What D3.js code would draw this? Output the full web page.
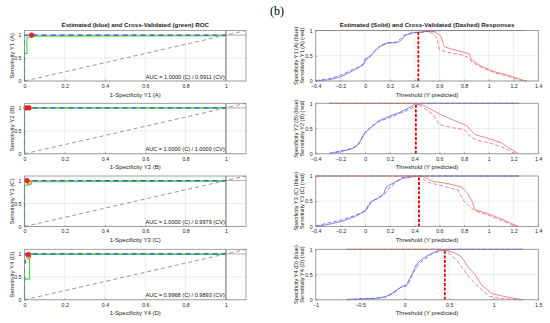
<!DOCTYPE html>
<html>
<head>
<meta charset="utf-8">
<script src="https://cdn.jsdelivr.net/npm/d3@7"></script>
<style>
  body { margin: 0; background: #fff; }
  svg { font-family: "Liberation Sans", Arial, sans-serif; }
  .tick text { fill: #262626; }
</style>
</head>
<body>
<svg width="550" height="323"></svg>
<script>
// ---- data ----
const names = ["Y1 (A)", "Y2 (B)", "Y3 (C)", "Y4 (D)"];
const aucC  = ["1.0000", "1.0000", "1.0000", "0.9968"];
const aucCV = ["0.9911", "1.0000", "0.9979", "0.9893"];

// ROC curves, [1-specificity, sensitivity]
const rocEst = [
  [[0,0],[0,1],[1,1]],
  [[0,0],[0,1],[1,1]],
  [[0,0],[0,1],[1,1]],
  [[0,0],[0,0.8],[0.005,0.8],[0.005,1],[1,1]]
];
const rocCv = [
  [[0,0],[0,0.6],[0.012,0.6],[0.012,0.96],[0.04,0.96],[0.04,0.975],[1,0.985]],
  [[0,0],[0,1],[1,1]],
  [[0,0],[0,0.9],[0.015,0.9],[0.015,0.975],[1,0.985]],
  [[0,0],[0,0.45],[0.025,0.45],[0.025,0.99],[1,0.99]]
];
const opEst = [[[0.035,1]], [[0.008,1],[0.022,1]], [[0.012,1]], [[0.02,0.985]]];
const opCv  = [[], [], [[0.025,0.95]], [[0.02,0.93]]];

// response curves, [threshold, value]
const specSolid = [
  [[-0.4,0],[-0.3,0.02],[-0.2,0.08],[-0.1,0.2],[-0.05,0.27],[-0.01,0.33],[0,0.44],[0.04,0.48],[0.08,0.6],[0.12,0.68],[0.18,0.75],[0.26,0.76],[0.29,0.8],[0.32,0.9],[0.38,0.95],[0.44,0.97],[0.52,0.99],[0.6,1],[1.29,1]],
  [[-0.29,0],[-0.2,0.04],[-0.12,0.09],[-0.07,0.15],[-0.04,0.25],[0,0.42],[0.06,0.55],[0.11,0.65],[0.2,0.75],[0.28,0.82],[0.36,0.92],[0.41,1],[1.24,1]],
  [[-0.4,0],[-0.3,0.04],[-0.19,0.1],[-0.08,0.2],[-0.01,0.3],[0.01,0.33],[0.05,0.5],[0.1,0.55],[0.15,0.65],[0.17,0.78],[0.24,0.88],[0.3,0.95],[0.4,0.99],[0.48,1],[1.24,1]],
  [[-0.65,0.01],[-0.33,0.03],[-0.22,0.06],[-0.15,0.12],[-0.07,0.22],[-0.015,0.27],[0.02,0.3],[0.08,0.5],[0.13,0.7],[0.19,0.8],[0.26,0.88],[0.34,0.95],[0.41,0.99],[0.45,1],[1.33,1]]
];
const specDash = [
  [[-0.4,0.01],[-0.3,0.04],[-0.2,0.11],[-0.1,0.23],[-0.03,0.3],[0,0.4],[0.03,0.46],[0.07,0.58],[0.12,0.7],[0.18,0.76],[0.25,0.77],[0.28,0.82],[0.31,0.9],[0.38,0.96],[0.46,0.96],[0.5,0.98],[0.62,1],[1.29,1]],
  [[-0.29,0.01],[-0.2,0.06],[-0.1,0.11],[-0.05,0.2],[-0.01,0.4],[0.05,0.54],[0.1,0.63],[0.2,0.72],[0.28,0.8],[0.36,0.88],[0.42,0.97],[0.46,1],[1.24,1]],
  [[-0.4,0.01],[-0.3,0.07],[-0.19,0.13],[-0.08,0.22],[0,0.3],[0.03,0.45],[0.09,0.55],[0.15,0.62],[0.19,0.75],[0.24,0.86],[0.3,0.97],[0.4,1],[1.24,1]],
  [[-0.65,0],[-0.35,0.02],[-0.22,0.05],[-0.12,0.14],[-0.05,0.24],[0.03,0.28],[0.1,0.55],[0.16,0.72],[0.22,0.8],[0.3,0.9],[0.4,0.97],[0.5,0.99],[0.6,1],[1.33,1]]
];
const sensSolid = [
  [[-0.4,1],[0.49,1],[0.56,0.97],[0.61,0.9],[0.64,0.68],[0.7,0.63],[0.78,0.58],[0.84,0.54],[0.86,0.42],[0.94,0.29],[1.05,0.18],[1.16,0.11],[1.27,0.02],[1.31,0]],
  [[-0.29,1],[0.41,1],[0.46,0.97],[0.54,0.87],[0.62,0.77],[0.7,0.68],[0.78,0.6],[0.82,0.56],[0.86,0.45],[0.89,0.38],[1,0.3],[1.1,0.22],[1.16,0.12],[1.24,0]],
  [[-0.4,1],[0.46,1],[0.54,0.9],[0.67,0.85],[0.78,0.78],[0.83,0.65],[0.86,0.52],[0.89,0.33],[1,0.25],[1.1,0.15],[1.21,0.03],[1.24,0]],
  [[-0.65,1],[0.43,1],[0.56,0.93],[0.64,0.85],[0.71,0.65],[0.79,0.5],[0.86,0.3],[0.98,0.12],[1.16,0.05],[1.33,0]]
];
const sensDash = [
  [[-0.4,1],[0.46,1],[0.54,0.95],[0.58,0.85],[0.6,0.62],[0.68,0.56],[0.78,0.52],[0.84,0.46],[0.86,0.38],[0.94,0.27],[1.05,0.16],[1.16,0.09],[1.26,0.01],[1.3,0]],
  [[-0.29,1],[0.41,1],[0.46,0.93],[0.54,0.8],[0.6,0.58],[0.7,0.52],[0.8,0.48],[0.86,0.32],[0.92,0.26],[1,0.22],[1.1,0.14],[1.16,0.07],[1.21,0]],
  [[-0.4,1],[0.44,1],[0.5,0.88],[0.6,0.82],[0.75,0.72],[0.8,0.5],[0.84,0.4],[0.89,0.31],[1,0.22],[1.1,0.12],[1.2,0.02],[1.23,0]],
  [[-0.65,1],[0.41,1],[0.5,0.92],[0.6,0.75],[0.7,0.5],[0.8,0.3],[0.86,0.2],[0.95,0.07],[1.1,0.02],[1.3,0]]
];
const thresholds = [0.43, 0.41, 0.435, 0.45];
const respDomains = [[-0.4,1.4],[-0.4,1.4],[-0.4,1.4],[-1,1.5]];
const respTicks = [
  [-0.4,-0.2,0,0.2,0.4,0.6,0.8,1,1.2,1.4],
  [-0.4,-0.2,0,0.2,0.4,0.6,0.8,1,1.2,1.4],
  [-0.4,-0.2,0,0.2,0.4,0.6,0.8,1,1.2,1.4],
  [-1,-0.5,0,0.5,1,1.5]
];

// ---- layout ----
const svg = d3.select("svg");
const tops = [30.5, 103.3, 176, 249.3];
const ph = 50.5;
const left = [24.5, 246], right = [315.7, 538.3];
const blue = "#4a4ae0", red = "#e25050", green = "#2ee02e";
const line = d3.line().x(d => d[0]).y(d => d[1]);

svg.append("text").attr("x", 270).attr("y", 15)
  .attr("font-family", "Liberation Serif, serif").attr("font-size", 12).text("(b)");

function frame(g, x, y, xt, yt, xfmt) {
  // grid
  g.append("g").selectAll("line").data(xt).join("line")
    .attr("x1", d => x(d)).attr("x2", d => x(d))
    .attr("y1", y.range()[0]).attr("y2", y.range()[1])
    .attr("stroke", "#e0e0e0").attr("stroke-width", 0.6);
  g.append("g").selectAll("line").data(yt).join("line")
    .attr("y1", d => y(d)).attr("y2", d => y(d))
    .attr("x1", x.range()[0]).attr("x2", x.range()[1])
    .attr("stroke", "#e0e0e0").attr("stroke-width", 0.6);
  const ax = g.append("g").attr("transform", `translate(0,${y.range()[0]})`)
    .call(d3.axisBottom(x).tickValues(xt).tickSize(-1.5).tickPadding(3).tickFormat(xfmt));
  const ay = g.append("g").attr("transform", `translate(${x.range()[0]},0)`)
    .call(d3.axisLeft(y).tickValues(yt).tickSize(-1.5).tickPadding(3).tickFormat(d3.format("")));
  [ax, ay].forEach(a => {
    a.select(".domain").remove();
    a.selectAll(".tick line").attr("stroke", "#555").attr("stroke-width", 0.5);
    a.selectAll(".tick text").attr("font-size", 5.3);
  });
}

function box(g, x, y) {
  g.append("rect")
    .attr("x", x.range()[0]).attr("y", y.range()[1])
    .attr("width", x.range()[1] - x.range()[0]).attr("height", y.range()[0] - y.range()[1])
    .attr("fill", "none").attr("stroke", "#8a8a8a").attr("stroke-width", 0.8);
}

names.forEach((nm, i) => {
  const top = tops[i];

  // ---- ROC panel ----
  const gx = d3.scaleLinear().domain([0, 1.1]).range(left);
  const gy = d3.scaleLinear().domain([0, 1.1]).range([top + ph, top]);
  const g = svg.append("g");
  frame(g, gx, gy, [0, 0.2, 0.4, 0.6, 0.8, 1], [0, 0.5, 1], d3.format(""));
  const pr = d => [gx(d[0]), gy(d[1])];
  g.append("path").attr("d", line([[0,0],[1.1,1.1]].map(pr)))
    .attr("fill", "none").attr("stroke", "#8c8c8c").attr("stroke-width", 0.9).attr("stroke-dasharray", "4,3");
  g.append("path").attr("d", line([[1,0],[1,1.1]].map(pr)))
    .attr("fill", "none").attr("stroke", "#a8a8a8").attr("stroke-width", 1.8);
  g.append("path").attr("d", line([[0,1],[1.1,1]].map(pr)))
    .attr("fill", "none").attr("stroke", "#999").attr("stroke-width", 0.7);
  g.append("path").attr("d", line(rocCv[i].map(pr)))
    .attr("fill", "none").attr("stroke", green).attr("stroke-width", 1.1);
  g.append("path").attr("d", line(rocEst[i].map(pr)))
    .attr("fill", "none").attr("stroke", blue).attr("stroke-width", 1.1).attr("stroke-dasharray", "5,4");
  g.selectAll(".opc").data(opCv[i]).join("circle")
    .attr("cx", d => gx(d[0])).attr("cy", d => gy(d[1])).attr("r", 2)
    .attr("fill", "#e6e04a").attr("stroke", red).attr("stroke-width", 0.8);
  g.selectAll(".ope").data(opEst[i]).join("circle")
    .attr("cx", d => gx(d[0])).attr("cy", d => gy(d[1])).attr("r", 2.4)
    .attr("fill", "#e22").attr("stroke", "#c11").attr("stroke-width", 0.5);
  box(g, gx, gy);
  g.append("text").attr("x", gx(1) - 1).attr("y", gy(0) - 2.5).attr("text-anchor", "end")
    .attr("font-size", 5.6).attr("fill", "#111")
    .text(`AUC = ${aucC[i]} (C) / ${aucCV[i]} (CV)`);
  g.append("text").attr("x", (left[0] + left[1]) / 2).attr("y", top + ph + 15.5)
    .attr("text-anchor", "middle").attr("font-size", 6).attr("fill", "#222")
    .text(`1-Specificity ${nm}`);
  g.append("text").attr("transform", `translate(12,${top + ph / 2}) rotate(-90)`)
    .attr("text-anchor", "middle").attr("dy", "0.35em").attr("font-size", 6).attr("fill", "#222")
    .text(`Sensitivity ${nm}`);

  // ---- response panel ----
  const rx = d3.scaleLinear().domain(respDomains[i]).range(right);
  const ry = d3.scaleLinear().domain([0, 1]).range([top + ph, top]);
  const h = svg.append("g");
  frame(h, rx, ry, respTicks[i], [0, 0.5, 1], d3.format(""));
  const rp = d => [rx(d[0]), ry(d[1])];
  h.append("path").attr("d", line(specDash[i].map(rp)))
    .attr("fill", "none").attr("stroke", blue).attr("stroke-width", 0.8).attr("stroke-dasharray", "4,2").attr("opacity", 0.85);
  h.append("path").attr("d", line(specSolid[i].map(rp)))
    .attr("fill", "none").attr("stroke", blue).attr("stroke-width", 0.8).attr("opacity", 0.85);
  h.append("path").attr("d", line(sensDash[i].map(rp)))
    .attr("fill", "none").attr("stroke", red).attr("stroke-width", 0.8).attr("stroke-dasharray", "4,2").attr("opacity", 0.85);
  h.append("path").attr("d", line(sensSolid[i].map(rp)))
    .attr("fill", "none").attr("stroke", red).attr("stroke-width", 0.8).attr("opacity", 0.85);
  h.append("path").attr("d", line([[thresholds[i], 0], [thresholds[i], 1]].map(rp)))
    .attr("fill", "none").attr("stroke", "#e00000").attr("stroke-width", 1.8).attr("stroke-dasharray", "3,1.6");
  box(h, rx, ry);
  h.append("text").attr("x", (right[0] + right[1]) / 2).attr("y", top + ph + 15.5)
    .attr("text-anchor", "middle").attr("font-size", 6).attr("fill", "#222")
    .text("Threshold (Y predicted)");
  h.append("text").attr("transform", `translate(296,${top + ph / 2}) rotate(-90)`)
    .attr("text-anchor", "middle").attr("dy", "0.35em").attr("font-size", 5.6).attr("fill", "#222")
    .text(`Specificity ${nm} (blue)`);
  h.append("text").attr("transform", `translate(302,${top + ph / 2}) rotate(-90)`)
    .attr("text-anchor", "middle").attr("dy", "0.35em").attr("font-size", 5.6).attr("fill", "#222")
    .text(`Sensitivity ${nm} (red)`);
});

svg.append("text").attr("x", (left[0] + left[1]) / 2).attr("y", 26.5)
  .attr("text-anchor", "middle").attr("font-size", 6.2).attr("font-weight", "bold").attr("fill", "#222")
  .text("Estimated (blue) and Cross-Validated (green) ROC");
svg.append("text").attr("x", (right[0] + right[1]) / 2).attr("y", 26.5)
  .attr("text-anchor", "middle").attr("font-size", 6.2).attr("font-weight", "bold").attr("fill", "#222")
  .text("Estimated (Solid) and Cross-Validated (Dashed) Responses");
</script>
</body>
</html>
